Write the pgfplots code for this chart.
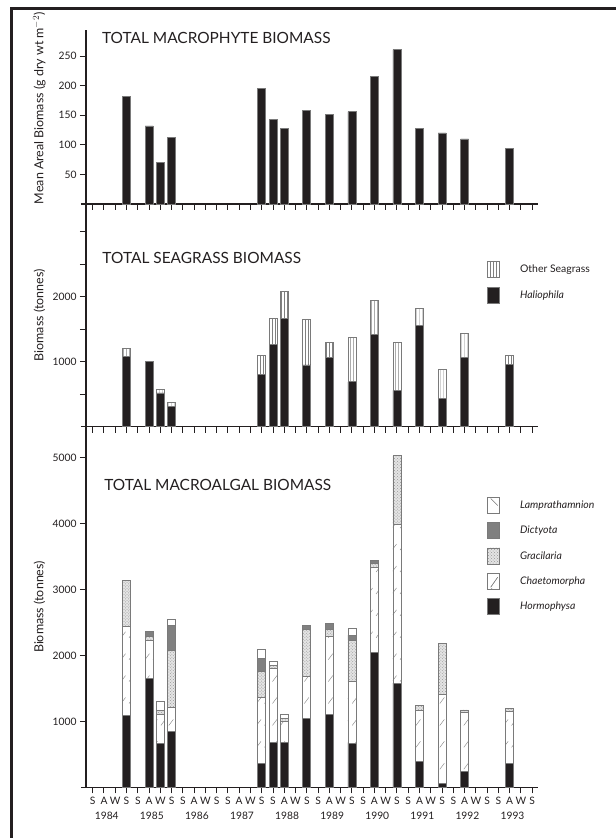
\documentclass[border=0pt]{standalone}
\usepackage{fontspec}
\setmainfont{Lato}
\usepackage{pgfplots}
\usepackage{pgfplotstable}
\pgfplotsset{compat=1.18}
\usetikzlibrary{patterns}

\definecolor{ink}{HTML}{231F20}
\definecolor{barline}{HTML}{7A7A7A}
\definecolor{dictgrey}{HTML}{808080}
\definecolor{gracfill}{HTML}{E4E4E4}

% sparse short diagonal strokes for Chaetomorpha
\pgfdeclarepatternformonly{sparse diag}{\pgfqpoint{-1pt}{-1pt}}{\pgfqpoint{9pt}{23pt}}{\pgfqpoint{8pt}{22pt}}{%
  \pgfsetlinewidth{0.4pt}%
  \pgfpathmoveto{\pgfqpoint{1.5pt}{3pt}}%
  \pgfpathlineto{\pgfqpoint{6pt}{9pt}}%
  \pgfusepath{stroke}}

% x: 0..39 = S A W S per year, 1984-1993
\pgfplotstableread{
x  top  hal  oth  hor  cha  gra  dic  lam
3  182  1080 120  1090 1355 700  0    0
5  132  1000 0    1650 580  60   70   0
6  70   520  50   660  440  70   0    130
7  112  310  60   845  365  865  385  90
15 195  810  290  365  995  400  200  140
16 143  1270 395  685  1125 40   0    55
17 128  1660 415  685  310  45   0    70
19 158  950  700  1045 640  710  65   0
21 152  1070 230  1110 1175 110  90   0
23 156  690  685  670  935  630  75   100
25 216  1420 520  2045 1290 60   45   0
27 261  560  735  1580 2410 1040 0    0
29 127  1560 255  390  785  65   0    0
31 120  430  445  60   1355 770  0    0
33 110  1070 370  245  890  40   0    0
37 94   960  135  365  785  50   0    0
}\datatab

\pgfplotsset{
  panel/.style={
    scale only axis, width=452.3bp, xmin=-0.595, xmax=39.54, ymin=0,
    axis x line=bottom, axis y line=left,
    axis line style={-, line width=1.1bp, draw=ink},
    tick align=outside, major tick length=6bp,
    tick style={line width=1bp, draw=ink},
    xtick={0,...,39}, xticklabels={},
    tick label style={font=\fontsize{10.3}{12}\selectfont, text=ink},
    /pgf/number format/assume math mode=true,
    /pgf/number format/1000 sep={},
    ylabel style={font=\fontsize{12.5}{14}\selectfont, text=ink, anchor=center},
    every axis title shift=0pt,
    title style={font=\fontsize{15.5}{17}\selectfont, text=ink, anchor=west, inner sep=0pt},
    bar width=8bp,
    clip=false,
    legend style={draw=none, fill=none, font=\fontsize{10.5}{12}\selectfont,
      anchor=north west, inner sep=0pt, column sep=20bp, row sep=8.5bp,
      nodes={inner sep=0pt, text=ink}},
    legend cell align=left,
  },
  bars/.style={draw=barline, line width=0.7bp,
    legend image code/.code={\draw[##1] (0bp,-8bp) rectangle (12bp,8bp);}},
  legchaeto/.style={legend image code/.code={\draw[##1] (0bp,-8bp) rectangle (12bp,8bp);
    \draw[gray, line width=0.4bp] (3bp,-6bp) -- (10bp,4bp);}},
  leglamp/.style={legend image code/.code={\draw[##1] (0bp,-8bp) rectangle (12bp,8bp);
    \draw[gray, line width=0.5bp] (3bp,7bp) -- (10bp,0bp);}},
}

\begin{document}
\begin{tikzpicture}[x=1bp,y=1bp]
\useasboundingbox (0,0) rectangle (616,838);
\draw[line width=2.7bp, ink] (11.35,0) -- (11.35,829.3) -- (616,829.3);
\coordinate (Ptop) at (86,634);
\coordinate (Pmid) at (86,411.3);
\coordinate (Pbot) at (86,50.7);

% top: total macrophyte biomass
\begin{axis}[panel, ybar, at={(Ptop)}, anchor=south west, height=174bp, ymax=294,
  ytick={50,100,...,250},
  ylabel={Mean Areal Biomass (g dry wt m$^{-2}$)},
  ylabel style={at={(axis description cs:-0.103,0.55)}},
  title={TOTAL MACROPHYTE BIOMASS},
  title style={at={(axis description cs:0.035,0.954)}}]
  \addplot[bars, fill=ink] table[x=x, y=top]{\datatab};
  \draw[line width=1.1bp, ink] (axis cs:-1.06,0) -- (axis cs:-0.595,0);
\end{axis}

% middle: total seagrass biomass
\begin{axis}[panel, ybar stacked, at={(Pmid)}, anchor=south west, height=222.7bp, ymax=3426,
  ytick={500,1000,...,3000}, yticklabels={,1000,,2000,,},
  ylabel={Biomass (tonnes)},
  ylabel style={at={(axis description cs:-0.103,0.5)}},
  title={TOTAL SEAGRASS BIOMASS},
  title style={at={(axis description cs:0.036,0.757)}},
  reverse legend,
  legend style={at={(axis description cs:0.887,0.744)}, row sep=9bp}]
  \addplot[bars, fill=ink] table[x=x, y=hal]{\datatab};
  \addlegendentry{\textit{Haliophila}}
  \addplot[bars, fill=white, postaction={pattern=vertical lines, pattern color=gray}] table[x=x, y=oth]{\datatab};
  \addlegendentry{Other Seagrass}
  \draw[line width=1.1bp, ink] (axis cs:-1.06,0) -- (axis cs:-0.595,0);
\end{axis}

% bottom: total macroalgal biomass
\begin{axis}[panel, ybar stacked, at={(Pbot)}, anchor=south west, height=360.6bp, ymax=5472,
  ytick={1000,2000,...,5000},
  xticklabels={S,A,W,S,S,A,W,S,S,A,W,S,S,A,W,S,S,A,W,S,S,A,W,S,S,A,W,S,S,A,W,S,S,A,W,S,S,A,W,S},
  extra x ticks={1.25,5.25,...,37.25},
  extra x tick labels={1984,1985,1986,1987,1988,1989,1990,1991,1992,1993},
  extra x tick style={tick style={draw=none}, tick label style={yshift=-15bp}},
  ylabel={Biomass (tonnes)},
  ylabel style={at={(axis description cs:-0.103,0.5)}},
  title={TOTAL MACROALGAL BIOMASS},
  title style={at={(axis description cs:0.04,0.838)}},
  reverse legend,
  legend style={at={(axis description cs:0.887,0.805)}}]
  \addplot[bars, fill=ink] table[x=x, y=hor]{\datatab};
  \addlegendentry{\textit{Hormophysa}}
  \addplot[bars, fill=white, postaction={pattern=sparse diag, pattern color=gray}, legchaeto]
    table[x=x, y=cha]{\datatab};
  \addlegendentry{\textit{Chaetomorpha}}
  \addplot[bars, fill=gracfill, postaction={pattern=crosshatch dots, pattern color=gray!80}] table[x=x, y=gra]{\datatab};
  \addlegendentry{\textit{Gracilaria}}
  \addplot[bars, fill=dictgrey] table[x=x, y=dic]{\datatab};
  \addlegendentry{\textit{Dictyota}}
  \addplot[bars, fill=white, leglamp] table[x=x, y=lam]{\datatab};
  \addlegendentry{\textit{Lamprathamnion}}
  \draw[line width=1.1bp, ink] (axis cs:-1.06,0) -- (axis cs:-0.595,0);
\end{axis}
\end{tikzpicture}
\end{document}
